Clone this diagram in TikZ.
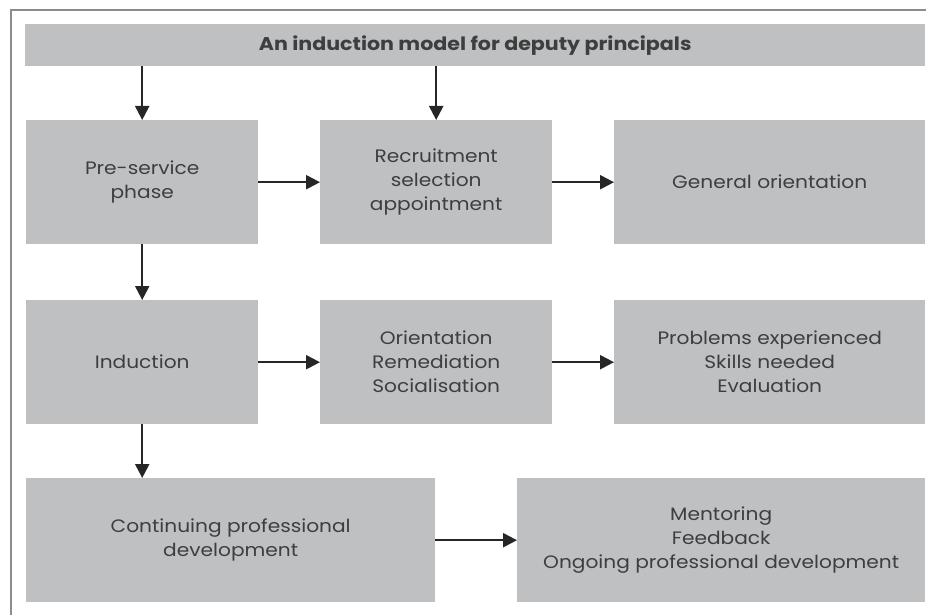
\documentclass[tikz,border=0pt]{standalone}
\usepackage{fontspec}
\setmainfont{Poppins}[FakeStretch=1.12]
\usetikzlibrary{arrows.meta}
\definecolor{boxgray}{HTML}{BFC0C2}
\definecolor{txtgray}{HTML}{3E3E3E}
\definecolor{framegray}{HTML}{8C8C8C}
\begin{document}
\begin{tikzpicture}[x=1pt,y=1pt,
  box/.style={fill=boxgray, draw=none, anchor=north west, align=center,
    text=txtgray, font=\fontsize{18}{24}\selectfont, inner sep=0pt},
  conn/.style={line width=2.2pt, draw=black!85, -{Triangle[length=14pt,width=14pt]}}
]
\useasboundingbox (0,0) rectangle (926,-615);
\draw[framegray, line width=2pt] (926,-10) -- (10.5,-10) -- (10.5,-615);

\node[box, minimum width=900pt, minimum height=42pt, font=\bfseries\fontsize{18.4}{22}\selectfont] (h) at (25,-24) {An induction model for deputy principals};

\node[box, minimum width=232pt, minimum height=124pt] (a) at (26,-120) {Pre-service\\phase};
\node[box, minimum width=232pt, minimum height=124pt] (b) at (320,-120) {Recruitment\\selection\\appointment};
\node[box, minimum width=311pt, minimum height=124pt] (c) at (614,-120) {General orientation};

\node[box, minimum width=232pt, minimum height=124pt] (d) at (26,-300) {Induction};
\node[box, minimum width=232pt, minimum height=124pt] (e) at (320,-300) {Orientation\\Remediation\\Socialisation};
\node[box, minimum width=311pt, minimum height=124pt] (f) at (614,-300) {Problems experienced\\Skills needed\\Evaluation};

\node[box, minimum width=409pt, minimum height=124pt] (g) at (26,-478) {Continuing professional\\development};
\node[box, minimum width=408pt, minimum height=124pt] (k) at (517,-478) {Mentoring\\Feedback\\Ongoing professional development};

\draw[conn] (a.north |- h.south) -- (a.north);
\draw[conn] (b.north |- h.south) -- (b.north);
\draw[conn] (a.east) -- (b.west);
\draw[conn] (b.east) -- (c.west);
\draw[conn] (a.south) -- (d.north);
\draw[conn] (d.east) -- (e.west);
\draw[conn] (e.east) -- (f.west);
\draw[conn] (d.south) -- (d.south |- g.north);
\draw[conn] (g.east) -- (k.west);
\end{tikzpicture}
\end{document}
